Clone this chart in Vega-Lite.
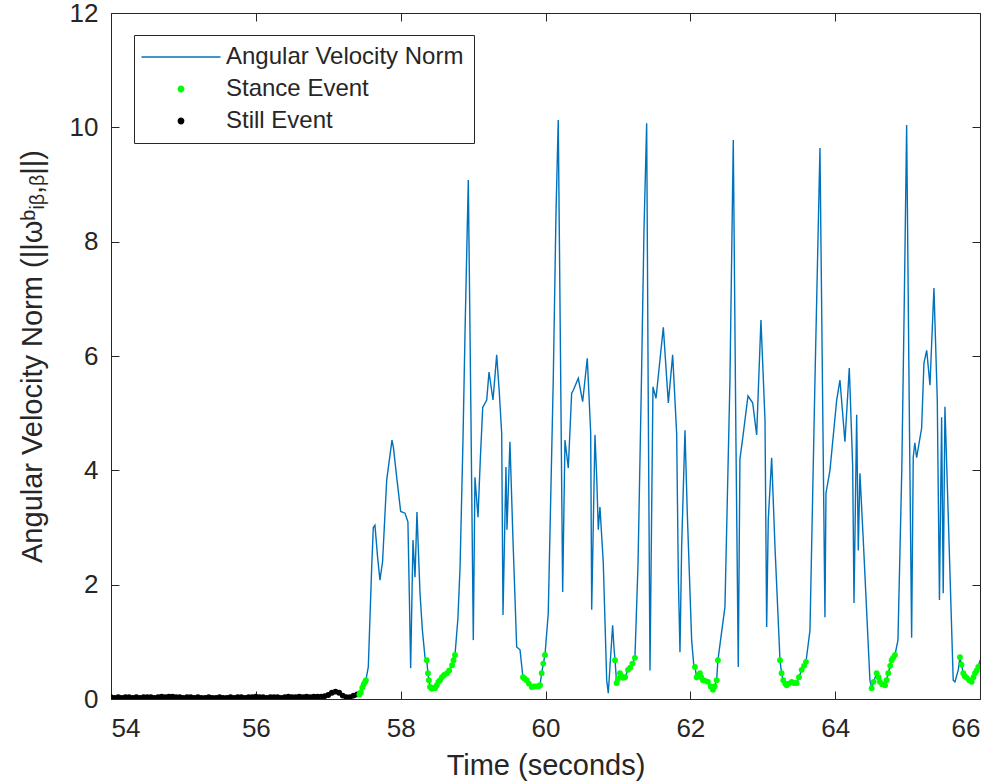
{
  "$schema": "https://vega.github.io/schema/vega-lite/v6.json",
  "width": 869,
  "height": 686,
  "autosize": "none",
  "padding": {"left": 111, "top": 13, "right": 18, "bottom": 84},
  "background": "white",
  "config": {
    "font": "Liberation Sans",
    "view": {"stroke": null},
    "axis": {
      "grid": false,
      "labelFont": "Liberation Sans",
      "titleFont": "Liberation Sans",
      "labelFontSize": 26,
      "titleFontSize": 29,
      "titleFontWeight": "normal",
      "labelColor": "#262626",
      "titleColor": "#262626",
      "domainColor": "#262626",
      "tickColor": "#262626",
      "domainWidth": 1,
      "tickWidth": 1,
      "tickSize": -8
    },
    "legend": {
      "labelFont": "Liberation Sans",
      "labelFontSize": 24,
      "labelColor": "#262626",
      "labelLimit": 400
    }
  },
  "data": {
    "values": [
      {"t": 54.00, "v": 0.03, "ev": "Still Event"},
      {"t": 54.05, "v": 0.02, "ev": "Still Event"},
      {"t": 54.10, "v": 0.03, "ev": "Still Event"},
      {"t": 54.15, "v": 0.02, "ev": "Still Event"},
      {"t": 54.20, "v": 0.03, "ev": "Still Event"},
      {"t": 54.25, "v": 0.03, "ev": "Still Event"},
      {"t": 54.30, "v": 0.02, "ev": "Still Event"},
      {"t": 54.35, "v": 0.03, "ev": "Still Event"},
      {"t": 54.40, "v": 0.02, "ev": "Still Event"},
      {"t": 54.45, "v": 0.03, "ev": "Still Event"},
      {"t": 54.50, "v": 0.03, "ev": "Still Event"},
      {"t": 54.55, "v": 0.03, "ev": "Still Event"},
      {"t": 54.60, "v": 0.02, "ev": "Still Event"},
      {"t": 54.65, "v": 0.03, "ev": "Still Event"},
      {"t": 54.70, "v": 0.04, "ev": "Still Event"},
      {"t": 54.75, "v": 0.03, "ev": "Still Event"},
      {"t": 54.80, "v": 0.04, "ev": "Still Event"},
      {"t": 54.85, "v": 0.04, "ev": "Still Event"},
      {"t": 54.90, "v": 0.03, "ev": "Still Event"},
      {"t": 54.95, "v": 0.03, "ev": "Still Event"},
      {"t": 55.00, "v": 0.02, "ev": "Still Event"},
      {"t": 55.05, "v": 0.03, "ev": "Still Event"},
      {"t": 55.10, "v": 0.03, "ev": "Still Event"},
      {"t": 55.15, "v": 0.02, "ev": "Still Event"},
      {"t": 55.20, "v": 0.03, "ev": "Still Event"},
      {"t": 55.25, "v": 0.02, "ev": "Still Event"},
      {"t": 55.30, "v": 0.02, "ev": "Still Event"},
      {"t": 55.35, "v": 0.03, "ev": "Still Event"},
      {"t": 55.40, "v": 0.02, "ev": "Still Event"},
      {"t": 55.45, "v": 0.02, "ev": "Still Event"},
      {"t": 55.50, "v": 0.03, "ev": "Still Event"},
      {"t": 55.55, "v": 0.02, "ev": "Still Event"},
      {"t": 55.60, "v": 0.02, "ev": "Still Event"},
      {"t": 55.65, "v": 0.03, "ev": "Still Event"},
      {"t": 55.70, "v": 0.02, "ev": "Still Event"},
      {"t": 55.75, "v": 0.03, "ev": "Still Event"},
      {"t": 55.80, "v": 0.03, "ev": "Still Event"},
      {"t": 55.85, "v": 0.02, "ev": "Still Event"},
      {"t": 55.90, "v": 0.03, "ev": "Still Event"},
      {"t": 55.95, "v": 0.03, "ev": "Still Event"},
      {"t": 56.00, "v": 0.04, "ev": "Still Event"},
      {"t": 56.05, "v": 0.03, "ev": "Still Event"},
      {"t": 56.10, "v": 0.03, "ev": "Still Event"},
      {"t": 56.15, "v": 0.02, "ev": "Still Event"},
      {"t": 56.20, "v": 0.03, "ev": "Still Event"},
      {"t": 56.25, "v": 0.03, "ev": "Still Event"},
      {"t": 56.30, "v": 0.03, "ev": "Still Event"},
      {"t": 56.35, "v": 0.02, "ev": "Still Event"},
      {"t": 56.40, "v": 0.03, "ev": "Still Event"},
      {"t": 56.45, "v": 0.04, "ev": "Still Event"},
      {"t": 56.50, "v": 0.03, "ev": "Still Event"},
      {"t": 56.55, "v": 0.03, "ev": "Still Event"},
      {"t": 56.60, "v": 0.04, "ev": "Still Event"},
      {"t": 56.65, "v": 0.03, "ev": "Still Event"},
      {"t": 56.70, "v": 0.04, "ev": "Still Event"},
      {"t": 56.75, "v": 0.03, "ev": "Still Event"},
      {"t": 56.80, "v": 0.04, "ev": "Still Event"},
      {"t": 56.85, "v": 0.04, "ev": "Still Event"},
      {"t": 56.90, "v": 0.04, "ev": "Still Event"},
      {"t": 56.95, "v": 0.05, "ev": "Still Event"},
      {"t": 57.00, "v": 0.07, "ev": "Still Event"},
      {"t": 57.05, "v": 0.11, "ev": "Still Event"},
      {"t": 57.10, "v": 0.13, "ev": "Still Event"},
      {"t": 57.15, "v": 0.11, "ev": "Still Event"},
      {"t": 57.20, "v": 0.06, "ev": "Still Event"},
      {"t": 57.25, "v": 0.03, "ev": "Still Event"},
      {"t": 57.30, "v": 0.03, "ev": "Still Event"},
      {"t": 57.35, "v": 0.06, "ev": "Still Event"},
      {"t": 57.40, "v": 0.08, "ev": "Still Event"},
      {"t": 57.43, "v": 0.08, "ev": "Stance Event"},
      {"t": 57.45, "v": 0.12, "ev": "Stance Event"},
      {"t": 57.47, "v": 0.20, "ev": "Stance Event"},
      {"t": 57.49, "v": 0.26, "ev": "Stance Event"},
      {"t": 57.51, "v": 0.30, "ev": "Stance Event"},
      {"t": 57.52, "v": 0.33, "ev": "Stance Event"},
      {"t": 57.553, "v": 0.56},
      {"t": 57.600, "v": 2.31},
      {"t": 57.622, "v": 3.0},
      {"t": 57.645, "v": 3.04},
      {"t": 57.68, "v": 2.5},
      {"t": 57.714, "v": 2.08},
      {"t": 57.75, "v": 2.4},
      {"t": 57.807, "v": 3.83},
      {"t": 57.88, "v": 4.53},
      {"t": 57.90, "v": 4.4},
      {"t": 57.945, "v": 3.88},
      {"t": 58.00, "v": 3.28},
      {"t": 58.06, "v": 3.25},
      {"t": 58.10, "v": 3.1},
      {"t": 58.12, "v": 1.8},
      {"t": 58.138, "v": 0.54},
      {"t": 58.17, "v": 2.78},
      {"t": 58.198, "v": 2.13},
      {"t": 58.225, "v": 3.27},
      {"t": 58.267, "v": 1.85},
      {"t": 58.30, "v": 1.2},
      {"t": 58.336, "v": 0.73},
      {"t": 58.36, "v": 0.68, "ev": "Stance Event"},
      {"t": 58.377, "v": 0.45, "ev": "Stance Event"},
      {"t": 58.39, "v": 0.33, "ev": "Stance Event"},
      {"t": 58.405, "v": 0.21, "ev": "Stance Event"},
      {"t": 58.43, "v": 0.18, "ev": "Stance Event"},
      {"t": 58.45, "v": 0.20, "ev": "Stance Event"},
      {"t": 58.474, "v": 0.19, "ev": "Stance Event"},
      {"t": 58.50, "v": 0.24, "ev": "Stance Event"},
      {"t": 58.52, "v": 0.30, "ev": "Stance Event"},
      {"t": 58.543, "v": 0.33, "ev": "Stance Event"},
      {"t": 58.57, "v": 0.38, "ev": "Stance Event"},
      {"t": 58.60, "v": 0.42, "ev": "Stance Event"},
      {"t": 58.64, "v": 0.45, "ev": "Stance Event"},
      {"t": 58.67, "v": 0.50, "ev": "Stance Event"},
      {"t": 58.71, "v": 0.59, "ev": "Stance Event"},
      {"t": 58.73, "v": 0.68, "ev": "Stance Event"},
      {"t": 58.75, "v": 0.77, "ev": "Stance Event"},
      {"t": 58.79, "v": 1.4},
      {"t": 58.82, "v": 2.3},
      {"t": 58.86, "v": 4.5},
      {"t": 58.89, "v": 6.5},
      {"t": 58.934, "v": 9.08},
      {"t": 58.97, "v": 5.0},
      {"t": 59.003, "v": 1.03},
      {"t": 59.026, "v": 3.88},
      {"t": 59.068, "v": 3.18},
      {"t": 59.10, "v": 4.2},
      {"t": 59.133, "v": 5.1},
      {"t": 59.188, "v": 5.23},
      {"t": 59.22, "v": 5.72},
      {"t": 59.275, "v": 5.23},
      {"t": 59.326, "v": 6.02},
      {"t": 59.36, "v": 5.4},
      {"t": 59.395, "v": 4.65},
      {"t": 59.413, "v": 1.47},
      {"t": 59.454, "v": 4.06},
      {"t": 59.468, "v": 2.96},
      {"t": 59.509, "v": 4.5},
      {"t": 59.551, "v": 2.78},
      {"t": 59.602, "v": 0.91},
      {"t": 59.648, "v": 0.86},
      {"t": 59.67, "v": 0.6},
      {"t": 59.689, "v": 0.38, "ev": "Stance Event"},
      {"t": 59.71, "v": 0.36, "ev": "Stance Event"},
      {"t": 59.74, "v": 0.33, "ev": "Stance Event"},
      {"t": 59.77, "v": 0.27, "ev": "Stance Event"},
      {"t": 59.81, "v": 0.21, "ev": "Stance Event"},
      {"t": 59.84, "v": 0.22, "ev": "Stance Event"},
      {"t": 59.87, "v": 0.22, "ev": "Stance Event"},
      {"t": 59.90, "v": 0.22, "ev": "Stance Event"},
      {"t": 59.924, "v": 0.24, "ev": "Stance Event"},
      {"t": 59.947, "v": 0.45, "ev": "Stance Event"},
      {"t": 59.97, "v": 0.62, "ev": "Stance Event"},
      {"t": 59.993, "v": 0.77, "ev": "Stance Event"},
      {"t": 60.038, "v": 1.5},
      {"t": 60.107, "v": 5.58},
      {"t": 60.145, "v": 8.5},
      {"t": 60.176, "v": 10.13},
      {"t": 60.207, "v": 6.0},
      {"t": 60.237, "v": 1.87},
      {"t": 60.269, "v": 4.53},
      {"t": 60.315, "v": 4.04},
      {"t": 60.361, "v": 5.35},
      {"t": 60.384, "v": 5.4},
      {"t": 60.453, "v": 5.61},
      {"t": 60.513, "v": 5.2},
      {"t": 60.577, "v": 5.96},
      {"t": 60.624, "v": 4.65},
      {"t": 60.638, "v": 1.56},
      {"t": 60.683, "v": 4.62},
      {"t": 60.707, "v": 3.88},
      {"t": 60.729, "v": 2.96},
      {"t": 60.752, "v": 3.36},
      {"t": 60.798, "v": 2.38},
      {"t": 60.845, "v": 0.33},
      {"t": 60.867, "v": 0.1},
      {"t": 60.927, "v": 1.29},
      {"t": 60.945, "v": 0.91},
      {"t": 60.96, "v": 0.68, "ev": "Stance Event"},
      {"t": 60.982, "v": 0.28, "ev": "Stance Event"},
      {"t": 61.00, "v": 0.35, "ev": "Stance Event"},
      {"t": 61.028, "v": 0.45, "ev": "Stance Event"},
      {"t": 61.05, "v": 0.40, "ev": "Stance Event"},
      {"t": 61.07, "v": 0.37, "ev": "Stance Event"},
      {"t": 61.10, "v": 0.38, "ev": "Stance Event"},
      {"t": 61.139, "v": 0.51, "ev": "Stance Event"},
      {"t": 61.17, "v": 0.55, "ev": "Stance Event"},
      {"t": 61.20, "v": 0.62, "ev": "Stance Event"},
      {"t": 61.235, "v": 0.72, "ev": "Stance Event"},
      {"t": 61.278, "v": 2.38},
      {"t": 61.325, "v": 5.58},
      {"t": 61.36, "v": 8.2},
      {"t": 61.397, "v": 10.07},
      {"t": 61.42, "v": 5.0},
      {"t": 61.443, "v": 0.5},
      {"t": 61.484, "v": 5.46},
      {"t": 61.526, "v": 5.26},
      {"t": 61.627, "v": 6.5},
      {"t": 61.696, "v": 5.18},
      {"t": 61.756, "v": 6.02},
      {"t": 61.811, "v": 4.65},
      {"t": 61.835, "v": 2.08},
      {"t": 61.857, "v": 0.82},
      {"t": 61.88, "v": 2.66},
      {"t": 61.926, "v": 4.7},
      {"t": 61.958, "v": 3.25},
      {"t": 62.018, "v": 1.03},
      {"t": 62.05, "v": 0.56},
      {"t": 62.064, "v": 0.56, "ev": "Stance Event"},
      {"t": 62.087, "v": 0.38, "ev": "Stance Event"},
      {"t": 62.11, "v": 0.42, "ev": "Stance Event"},
      {"t": 62.133, "v": 0.45, "ev": "Stance Event"},
      {"t": 62.15, "v": 0.38, "ev": "Stance Event"},
      {"t": 62.174, "v": 0.33, "ev": "Stance Event"},
      {"t": 62.20, "v": 0.32, "ev": "Stance Event"},
      {"t": 62.243, "v": 0.30, "ev": "Stance Event"},
      {"t": 62.28, "v": 0.22, "ev": "Stance Event"},
      {"t": 62.312, "v": 0.16, "ev": "Stance Event"},
      {"t": 62.335, "v": 0.22, "ev": "Stance Event"},
      {"t": 62.363, "v": 0.33, "ev": "Stance Event"},
      {"t": 62.381, "v": 0.68, "ev": "Stance Event"},
      {"t": 62.478, "v": 1.61},
      {"t": 62.547, "v": 5.58},
      {"t": 62.593, "v": 9.78},
      {"t": 62.63, "v": 4.5},
      {"t": 62.662, "v": 0.56},
      {"t": 62.685, "v": 4.2},
      {"t": 62.727, "v": 4.6},
      {"t": 62.796, "v": 5.3},
      {"t": 62.861, "v": 5.18},
      {"t": 62.916, "v": 4.62},
      {"t": 62.975, "v": 6.63},
      {"t": 63.031, "v": 4.88},
      {"t": 63.054, "v": 1.26},
      {"t": 63.076, "v": 3.13},
      {"t": 63.123, "v": 4.22},
      {"t": 63.169, "v": 2.66},
      {"t": 63.238, "v": 0.68, "ev": "Stance Event"},
      {"t": 63.26, "v": 0.45, "ev": "Stance Event"},
      {"t": 63.283, "v": 0.33, "ev": "Stance Event"},
      {"t": 63.31, "v": 0.27, "ev": "Stance Event"},
      {"t": 63.33, "v": 0.24, "ev": "Stance Event"},
      {"t": 63.36, "v": 0.27, "ev": "Stance Event"},
      {"t": 63.399, "v": 0.30, "ev": "Stance Event"},
      {"t": 63.43, "v": 0.28, "ev": "Stance Event"},
      {"t": 63.468, "v": 0.28, "ev": "Stance Event"},
      {"t": 63.50, "v": 0.38, "ev": "Stance Event"},
      {"t": 63.537, "v": 0.51, "ev": "Stance Event"},
      {"t": 63.57, "v": 0.58, "ev": "Stance Event"},
      {"t": 63.597, "v": 0.65, "ev": "Stance Event"},
      {"t": 63.652, "v": 1.2},
      {"t": 63.721, "v": 5.58},
      {"t": 63.79, "v": 9.64},
      {"t": 63.859, "v": 1.43},
      {"t": 63.873, "v": 3.6},
      {"t": 63.928, "v": 4.0},
      {"t": 64.021, "v": 5.23},
      {"t": 64.066, "v": 5.58},
      {"t": 64.135, "v": 4.5},
      {"t": 64.195, "v": 5.79},
      {"t": 64.242, "v": 4.06},
      {"t": 64.26, "v": 1.68},
      {"t": 64.297, "v": 4.97},
      {"t": 64.319, "v": 2.6},
      {"t": 64.342, "v": 3.95},
      {"t": 64.388, "v": 2.78},
      {"t": 64.48, "v": 0.33},
      {"t": 64.504, "v": 0.19, "ev": "Stance Event"},
      {"t": 64.53, "v": 0.30, "ev": "Stance Event"},
      {"t": 64.573, "v": 0.45, "ev": "Stance Event"},
      {"t": 64.60, "v": 0.38, "ev": "Stance Event"},
      {"t": 64.618, "v": 0.30, "ev": "Stance Event"},
      {"t": 64.65, "v": 0.26, "ev": "Stance Event"},
      {"t": 64.688, "v": 0.24, "ev": "Stance Event"},
      {"t": 64.71, "v": 0.33, "ev": "Stance Event"},
      {"t": 64.733, "v": 0.45, "ev": "Stance Event"},
      {"t": 64.76, "v": 0.58, "ev": "Stance Event"},
      {"t": 64.78, "v": 0.68, "ev": "Stance Event"},
      {"t": 64.80, "v": 0.72, "ev": "Stance Event"},
      {"t": 64.826, "v": 0.77, "ev": "Stance Event"},
      {"t": 64.867, "v": 1.03},
      {"t": 64.92, "v": 4.0},
      {"t": 64.955, "v": 7.0},
      {"t": 64.987, "v": 10.04},
      {"t": 65.02, "v": 5.5},
      {"t": 65.056, "v": 1.07},
      {"t": 65.078, "v": 4.23},
      {"t": 65.10, "v": 4.48},
      {"t": 65.125, "v": 4.22},
      {"t": 65.194, "v": 4.74},
      {"t": 65.226, "v": 5.88},
      {"t": 65.264, "v": 6.1},
      {"t": 65.309, "v": 5.49},
      {"t": 65.364, "v": 7.19},
      {"t": 65.41, "v": 5.23},
      {"t": 65.44, "v": 1.73},
      {"t": 65.47, "v": 4.93},
      {"t": 65.492, "v": 1.85},
      {"t": 65.516, "v": 5.11},
      {"t": 65.63, "v": 0.33},
      {"t": 65.654, "v": 0.30},
      {"t": 65.70, "v": 0.51},
      {"t": 65.723, "v": 0.73, "ev": "Stance Event"},
      {"t": 65.745, "v": 0.60, "ev": "Stance Event"},
      {"t": 65.769, "v": 0.45, "ev": "Stance Event"},
      {"t": 65.79, "v": 0.40, "ev": "Stance Event"},
      {"t": 65.816, "v": 0.37, "ev": "Stance Event"},
      {"t": 65.85, "v": 0.33, "ev": "Stance Event"},
      {"t": 65.885, "v": 0.30, "ev": "Stance Event"},
      {"t": 65.91, "v": 0.38, "ev": "Stance Event"},
      {"t": 65.931, "v": 0.45, "ev": "Stance Event"},
      {"t": 65.955, "v": 0.50, "ev": "Stance Event"},
      {"t": 65.976, "v": 0.56, "ev": "Stance Event"},
      {"t": 66.0, "v": 0.68}
    ]
  },
  "layer": [
    {
      "mark": {"type": "line", "strokeWidth": 1.4, "clip": true},
      "encoding": {
        "x": {
          "field": "t", "type": "quantitative",
          "scale": {"domain": [54, 66], "nice": false, "zero": false},
          "axis": {"values": [54, 56, 58, 60, 62, 64, 66], "title": "Time (seconds)", "labelPadding": 24, "titlePadding": 10, "format": "d"}
        },
        "y": {
          "field": "v", "type": "quantitative",
          "scale": {"domain": [0, 12], "nice": false},
          "axis": {"values": [0, 2, 4, 6, 8, 10, 12], "title": "Angular Velocity Norm (||ωᵇᵢᵦ,ᵦ||)", "labelPadding": 21, "titlePadding": 22, "format": "d"}
        },
        "color": {
          "datum": "Angular Velocity Norm",
          "scale": {
            "domain": ["Angular Velocity Norm", "Stance Event", "Still Event"],
            "range": ["#0072BD", "#00FF00", "#000000"]
          },
          "legend": {
            "title": null,
            "orient": "none",
            "legendX": 23,
            "legendY": 22,
            "padding": 10,
            "strokeColor": "#262626",
            "fillColor": "white",
            "symbolSize": 400,
            "symbolOffset": 25,
            "labelOffset": 33,
            "rowPadding": 8,
            "symbolStrokeWidth": 1.4,
            "labelLimit": 400,
            "encode": {
              "symbols": {
                "update": {
                  "shape": [
                    {"test": "datum.value === 'Angular Velocity Norm'", "value": "M-3.95,0H3.95"},
                    {"value": "M-0.27,0A0.27,0.27,0,1,1,0.27,0A0.27,0.27,0,1,1,-0.27,0Z"}
                  ],
                  "fill": [
                    {"test": "datum.value === 'Angular Velocity Norm'", "value": "transparent"},
                    {"test": "datum.value === 'Stance Event'", "value": "#00FF00"},
                    {"value": "#000000"}
                  ],
                  "stroke": [
                    {"test": "datum.value === 'Angular Velocity Norm'", "value": "#0072BD"},
                    {"value": "transparent"}
                  ],
                  "opacity": {"value": 1}
                }
              }
            }
          }
        }
      }
    },
    {
      "transform": [{"filter": "isValid(datum.ev)"}],
      "mark": {"type": "point", "filled": true, "size": 34, "opacity": 1, "clip": true},
      "encoding": {
        "x": {"field": "t", "type": "quantitative", "axis": null},
        "y": {"field": "v", "type": "quantitative", "axis": null},
        "color": {"field": "ev", "type": "nominal", "title": null}
      }
    },
    {
      "mark": {"type": "point", "opacity": 0},
      "encoding": {
        "x": {
          "field": "t", "type": "quantitative",
          "axis": {"orient": "top", "values": [54, 56, 58, 60, 62, 64, 66], "labels": false, "title": null}
        },
        "y": {
          "field": "v", "type": "quantitative",
          "axis": {"orient": "right", "values": [0, 2, 4, 6, 8, 10, 12], "labels": false, "title": null}
        }
      }
    }
  ],
  "resolve": {"axis": {"x": "independent", "y": "independent"}}
}
